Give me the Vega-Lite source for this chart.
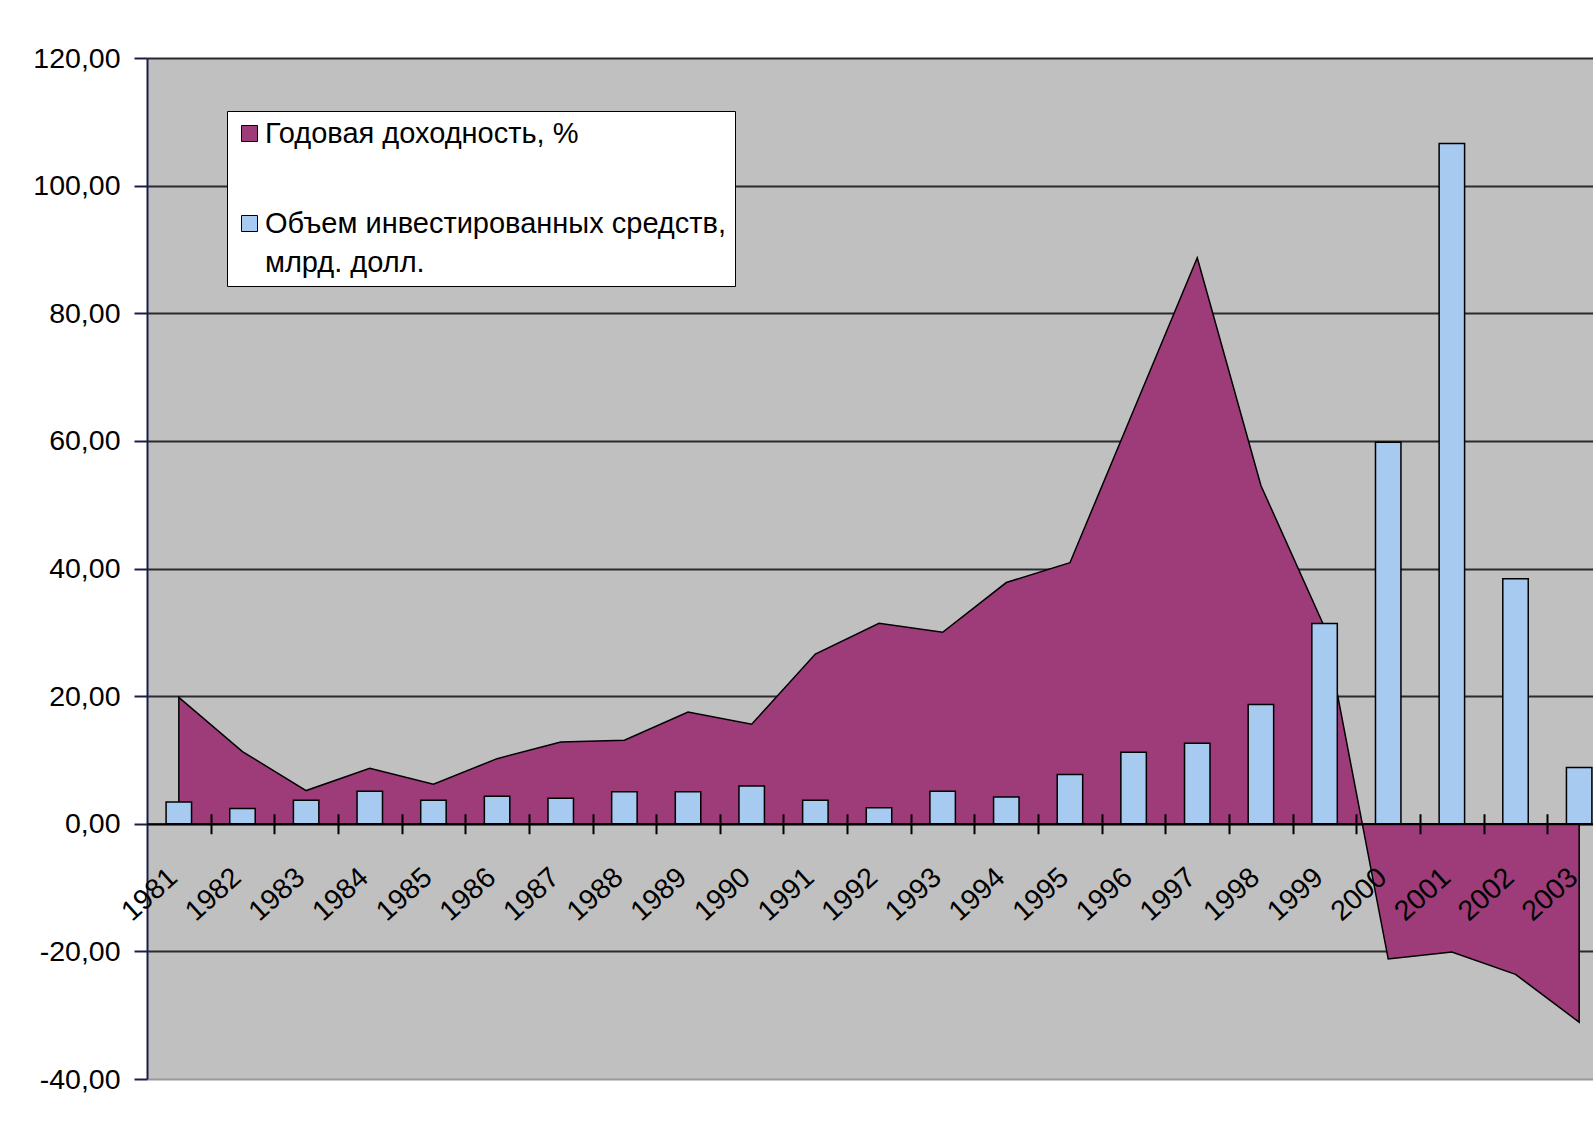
{
  "$schema": "https://vega.github.io/schema/vega-lite/v6.json",
  "width": 1446,
  "height": 1021,
  "autosize": {"type": "none"},
  "padding": {"left": 147, "top": 58, "right": 0, "bottom": 44},
  "background": "white",
  "config": {
    "view": {"fill": "#C0C0C0", "stroke": null},
    "font": "Liberation Sans"
  },
  "data": {
    "values": [
      {"year": "1981", "ret": 19.8, "inv": 3.4},
      {"year": "1982", "ret": 11.3, "inv": 2.4},
      {"year": "1983", "ret": 5.2, "inv": 3.7},
      {"year": "1984", "ret": 8.7, "inv": 5.1},
      {"year": "1985", "ret": 6.2, "inv": 3.7},
      {"year": "1986", "ret": 10.2, "inv": 4.3},
      {"year": "1987", "ret": 12.8, "inv": 4.0},
      {"year": "1988", "ret": 13.1, "inv": 5.0},
      {"year": "1989", "ret": 17.5, "inv": 5.0},
      {"year": "1990", "ret": 15.6, "inv": 5.9},
      {"year": "1991", "ret": 26.6, "inv": 3.7},
      {"year": "1992", "ret": 31.4, "inv": 2.5},
      {"year": "1993", "ret": 30.0, "inv": 5.1},
      {"year": "1994", "ret": 37.8, "inv": 4.2},
      {"year": "1995", "ret": 40.9, "inv": 7.7},
      {"year": "1996", "ret": 64.8, "inv": 11.2},
      {"year": "1997", "ret": 88.7, "inv": 12.6},
      {"year": "1998", "ret": 53.0, "inv": 18.7},
      {"year": "1999", "ret": 30.8, "inv": 31.4},
      {"year": "2000", "ret": -21.2, "inv": 59.8},
      {"year": "2001", "ret": -20.1, "inv": 106.6},
      {"year": "2002", "ret": -23.6, "inv": 38.4},
      {"year": "2003", "ret": -31.1, "inv": 8.8}
    ]
  },
  "layer": [
    {
      "mark": {"type": "area", "stroke": "black", "strokeWidth": 1.5, "opacity": 1},
      "encoding": {
        "x": {
          "field": "year",
          "type": "ordinal",
          "scale": {"type": "band", "paddingInner": 0.6, "paddingOuter": 0.3, "range": [0, 1464]},
          "axis": {
            "orient": "bottom",
            "offset": -255.25,
            "title": null,
            "labels": false,
            "domain": false,
            "grid": false,
            "tickOffset": 31.8,
            "tickSize": -10,
            "tickWidth": 2,
            "tickColor": "black",
            "zindex": 1
          }
        },
        "y": {
          "field": "ret",
          "type": "quantitative",
          "scale": {"domain": [-40, 120], "nice": false, "zero": false},
          "axis": {
            "title": null,
            "values": [-40, -20, 0, 20, 40, 60, 80, 100, 120],
            "labelExpr": "replace(replace(format(datum.value, '.2f'), '.', ','), '\u2212', '-')",
            "labelFont": "Liberation Sans",
            "labelFontSize": 28.5,
            "labelColor": "black",
            "labelPadding": 14,
            "tickSize": 13,
            "tickWidth": 2,
            "tickColor": "#1c1c48",
            "domainColor": "#1c1c48",
            "domainWidth": 2,
            "grid": true,
            "gridColor": {"condition": {"test": "datum.value == -40", "value": "#9a9a9a"}, "value": "#2a2a30"},
            "gridWidth": 2
          }
        },
        "color": {
          "datum": "Годовая доходность, %",
          "scale": {
            "domain": ["Годовая доходность, %", "Объем инвестированных средств, млрд. долл."],
            "range": ["#9E3C7A", "#A6CAF0"]
          },
          "legend": {
            "title": null,
            "orient": "none",
            "legendX": 80,
            "legendY": 53,
            "fillColor": "white",
            "strokeColor": "black",
            "padding": 8,
            "symbolType": "square",
            "symbolSize": 256,
            "symbolStrokeColor": "black",
            "symbolStrokeWidth": 1,
            "symbolOpacity": 1,
            "labelFont": "Liberation Sans",
            "labelFontSize": 29,
            "labelColor": "black",
            "labelLimit": 700,
            "labelOffset": 1,
            "labelBaseline": "middle",
            "rowPadding": 60,
            "labelExpr": "datum.label == 'Объем инвестированных средств, млрд. долл.' ? ['Объем инвестированных средств,', 'млрд. долл.'] : datum.label",
            "encode": {"labels": {"update": {"lineHeight": {"value": 39}}}}
          }
        }
      }
    },
    {
      "mark": {"type": "bar", "stroke": "black", "strokeWidth": 1.5},
      "encoding": {
        "x": {
          "field": "year",
          "type": "ordinal",
          "axis": {
            "orient": "bottom",
            "offset": -255.25,
            "title": null,
            "labelAngle": -42,
            "labelAlign": "right",
            "labelBaseline": "middle",
            "labelFont": "Liberation Sans",
            "labelFontSize": 28.5,
            "labelColor": "black",
            "labelPadding": 39,
            "labelOffset": -38,
            "labelOverlap": false,
            "tickOffset": 31.8,
            "tickSize": 10,
            "tickWidth": 2,
            "tickColor": "black",
            "domainColor": "black",
            "domainWidth": 2,
            "grid": false,
            "zindex": 1
          }
        },
        "y": {
          "field": "inv",
          "type": "quantitative",
          "scale": {"domain": [-40, 120], "nice": false, "zero": false}
        },
        "color": {"datum": "Объем инвестированных средств, млрд. долл."}
      }
    }
  ],
  "resolve": {"axis": {"x": "independent"}}
}
